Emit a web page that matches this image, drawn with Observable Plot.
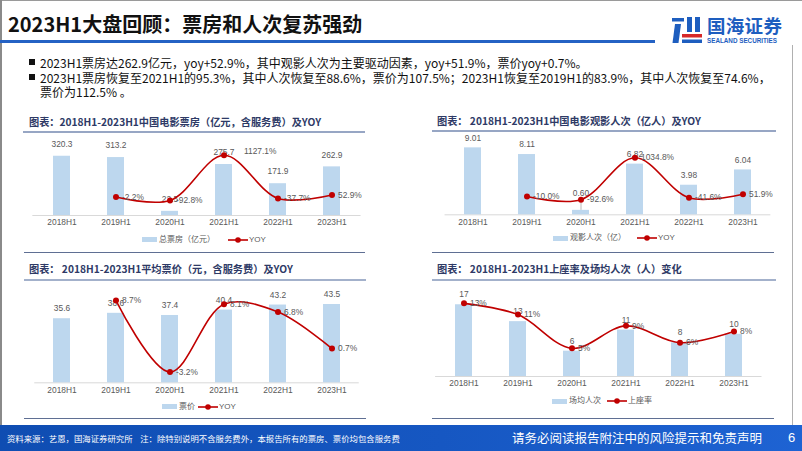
<!DOCTYPE html>
<html>
<head>
<meta charset="utf-8">
<script src="https://cdn.jsdelivr.net/npm/d3@7"></script>
<script src="https://cdn.jsdelivr.net/npm/@observablehq/plot@0.6"></script>
<style>
  body { margin: 0; background: #fff; }
  #slide { position: relative; width: 802px; height: 451px; background: #fff; overflow: hidden; font-family: "Noto Sans CJK SC", "Noto Sans", sans-serif; }
  .abs { position: absolute; }
  .ptitle { position: absolute; font-size: 10.2px; font-weight: bold; color: #2E3A66; white-space: nowrap; line-height: 1; }
  .hline { position: absolute; }
  .legend { position: absolute; display: flex; align-items: center; font-size: 8px; color: #595959; font-family: "Liberation Sans", "Noto Sans CJK SC", sans-serif; white-space: nowrap; line-height: 1; }
  .sw { display: inline-block; width: 15px; height: 5px; background: #BDD7EE; margin-right: 2px; }
  .bul { position: absolute; left: 40px; font-size: 12px; color: #111; white-space: nowrap; line-height: 13px; }
  .sq { position: absolute; left: 29px; width: 6px; height: 6px; background: #111; }
</style>
</head>
<body>
<div id="slide"></div>
<script>
// ---------- data ----------
const periods = ["2018H1", "2019H1", "2020H1", "2021H1", "2022H1", "2023H1"];
const boxOffice = [320.3, 313.2, 22.5, 275.7, 171.9, 262.9];            // 亿元
const boxOfficeYoy = [null, -2.2, -92.8, 1127.1, -37.7, 52.9];         // %
const admissions = [9.01, 8.11, 0.60, 6.82, 3.98, 6.04];                // 亿人
const admissionsYoy = [null, -10.0, -92.6, 1034.8, -41.6, 51.9];       // %
const ticketPrice = [35.6, 38.6, 37.4, 40.4, 43.2, 43.5];               // 元
const ticketPriceYoy = [null, 8.7, -3.2, 8.1, 6.8, 0.7];                // %
const perShow = [17, 13, 6, 11, 8, 10];                                 // 场均人次
const occupancy = [13, 11, 5, 9, 6, 8];                                 // 上座率 %

const slide = document.getElementById("slide");
function add(html) { slide.insertAdjacentHTML("beforeend", html); }

// ---------- frame ----------
add(`<div class="abs" style="left:0;top:0;width:802px;height:1px;background:#9a9a9a"></div>`);
add(`<div class="abs" style="left:0;top:0;width:2px;height:425px;background:#8a8a8a"></div>`);
add(`<div class="abs" style="left:792px;top:45px;width:1px;height:380px;background:#b0b0b0"></div>`);

// ---------- header ----------
add(`<div class="abs" style="left:8px;top:12px;font-size:20px;font-weight:bold;color:#111;line-height:24px;white-space:nowrap">2023H1大盘回顾：票房和人次复苏强劲</div>`);
add(`<div class="abs" style="left:0;top:40px;width:655px;height:3px;background:#2462C4"></div>`);
// logo
add(`<svg class="abs" style="left:671px;top:16px" width="32" height="28" viewBox="0 0 32 28">
  <path d="M1 2 L13 2 L13 5.5 L1 5.5 Z" fill="#1E5EBF"/>
  <path d="M4 8 L10 8 L7.5 27 L1.5 27 Z" fill="#1E5EBF"/>
  <path d="M16 1 L21 1 L21 16 L16 16 Z" fill="#1E5EBF"/>
  <path d="M24 1 L29 1 L29 16 L24 16 Z" fill="#1E5EBF"/>
  <rect x="11" y="18" width="20" height="3.5" fill="#D62828"/>
  <rect x="11" y="23.5" width="20" height="3.5" fill="#1E5EBF"/>
</svg>`);
add(`<div class="abs" style="left:707px;top:16px;font-size:18.5px;font-weight:bold;color:#1E5EBF;line-height:19px;height:19px;white-space:nowrap;letter-spacing:0.3px">国海证券</div>`);
add(`<div class="abs" style="left:707px;top:37px;font-size:6.3px;font-weight:bold;color:#1E5EBF;line-height:7px;white-space:nowrap;font-family:'Liberation Sans',sans-serif">SEALAND SECURITIES</div>`);

// ---------- bullets ----------
add(`<div class="sq" style="top:59px"></div>`);
add(`<div class="bul" style="top:55.5px">2023H1票房达262.9亿元，yoy+52.9%，其中观影人次为主要驱动因素，yoy+51.9%，票价yoy+0.7%。</div>`);
add(`<div class="sq" style="top:74px"></div>`);
add(`<div class="bul" style="top:70.5px">2023H1票房恢复至2021H1的95.3%，其中人次恢复至88.6%，票价为107.5%；2023H1恢复至2019H1的83.9%，其中人次恢复至74.6%，</div>`);
add(`<div class="bul" style="top:85px">票价为112.5% 。</div>`);

// ---------- panel titles and rules ----------
function rule(x1, x2, y, color, h) {
  add(`<div class="hline" style="left:${x1}px;top:${y - h / 2}px;width:${x2 - x1}px;height:${h}px;background:${color}"></div>`);
}
add(`<div class="ptitle" style="left:29px;top:116.5px">图表：2018H1-2023H1中国电影票房（亿元，含服务费）及YOY</div>`);
add(`<div class="ptitle" style="left:437px;top:115.5px">图表： 2018H1-2023H1中国电影观影人次（亿人）及YOY</div>`);
add(`<div class="ptitle" style="left:29px;top:263.5px">图表： 2018H1-2023H1平均票价（元，含服务费）及YOY</div>`);
add(`<div class="ptitle" style="left:437px;top:263.5px">图表： 2018H1-2023H1上座率及场均人次（人）变化</div>`);

// ---------- charts ----------
const barColor = "#BDD7EE";
const lineColor = "#C00000";
const labelColor = "#595959";
const font = "'Liberation Sans', Arial, 'Noto Sans CJK SC', sans-serif";

function chart(cfg) {
  const data = periods.map((p, i) => ({p, v: cfg.bars[i], r: cfg.line[i]}));
  const lineData = data.filter(d => d.r != null);
  // secondary axis mapped onto the primary one
  const toPrimary = d3.scaleLinear().domain(cfg.y2).range([0, cfg.yMax]);
  const yr = d => toPrimary(d.r);
  const big = cfg.bigLabel ? lineData.filter(d => d.r === d3.max(lineData, e => e.r)) : [];
  const normal = lineData.filter(d => !big.includes(d));
  // a very small bar gets its label lifted, with a thin leader
  const small = cfg.liftSmall ? data.filter(d => d.v === d3.min(data, e => e.v)) : [];
  const regular = data.filter(d => !small.includes(d));
  const svg = Plot.plot({
    width: cfg.W, height: cfg.H,
    marginLeft: cfg.ML, marginRight: cfg.MR, marginTop: cfg.MT, marginBottom: cfg.MB,
    x: {domain: periods, paddingInner: 0.69, paddingOuter: 0.345},
    y: {domain: [0, cfg.yMax], axis: null},
    style: {fontFamily: font, fontSize: "8.4px", color: labelColor, background: "transparent", overflow: "visible"},
    marks: [
      Plot.ruleY([0], {stroke: "#D9D9D9", strokeWidth: 1}),
      Plot.barY(data, {x: "p", y: "v", fill: barColor}),
      Plot.text(regular, {x: "p", y: "v", text: d => cfg.barFmt(d.v), dy: cfg.barDy, fill: labelColor}),
      Plot.ruleX(small, {x: "p", y1: "v", y2: d => d.v + cfg.yMax * 0.1, stroke: "#A6A6A6", strokeWidth: 0.8}),
      Plot.text(small, {x: "p", y: "v", text: d => cfg.barFmt(d.v), dy: -17, fill: labelColor}),
      Plot.axisX({tickSize: 0, tickPadding: 4, fill: labelColor, label: null}),
      Plot.line(lineData, {x: "p", y: yr, stroke: lineColor, strokeWidth: 1.6, curve: "catmull-rom"}),
      Plot.dot(lineData, {x: "p", y: yr, r: 3, fill: lineColor}),
      Plot.text(normal, {x: "p", y: yr, text: d => cfg.lineFmt(d.r), textAnchor: "start", dx: 6, fill: labelColor}),
      Plot.text(big, {x: "p", y: yr, text: d => cfg.lineFmt(d.r), textAnchor: "start", dx: 20, dy: -4, fill: labelColor})
    ]
  });
  const wrap = document.createElement("div");
  wrap.style.cssText = `position:absolute;left:${cfg.left}px;top:${cfg.top}px;width:${cfg.W}px;height:${cfg.H}px`;
  wrap.appendChild(svg);
  slide.appendChild(wrap);
}

const pct1 = v => d3.format(".1f")(v).replace("−", "-") + "%";
const pct0 = v => d3.format(".0f")(v).replace("−", "-") + "%";

chart({left: 0, top: 130, W: 400, H: 105, ML: 32.35, MR: 39.45, MT: 11, MB: 20,
  bars: boxOffice, line: boxOfficeYoy, yMax: 400, y2: [-500, 1500],
  barFmt: d3.format(".1f"), lineFmt: pct1, barDy: -12, bigLabel: true});
chart({left: 400, top: 130, W: 400, H: 104.3, ML: 44.55, MR: 29.65, MT: 10, MB: 20,
  bars: admissions, line: admissionsYoy, yMax: 10, y2: [-500, 1500],
  barFmt: d3.format(".2f"), lineFmt: pct1, barDy: -10, liftSmall: true});
chart({left: 0, top: 285, W: 400, H: 117.3, ML: 34.26, MR: 41.24, MT: 7.3, MB: 20,
  bars: ticketPrice, line: ticketPriceYoy, yMax: 50, y2: [-5, 10],
  barFmt: d3.format(".1f"), lineFmt: pct1, barDy: -10});
chart({left: 400, top: 285, W: 400, H: 111, ML: 35.1, MR: 38.5, MT: 6.6, MB: 20,
  bars: perShow, line: occupancy, yMax: 20, y2: [0, 15],
  barFmt: d3.format("d"), lineFmt: pct0, barDy: -10});

// rules drawn on top of the chart area edges
rule(23, 365, 131.7, "#97A6C4", 2);
rule(432, 776, 131, "#97A6C4", 2);
rule(24, 365, 252.5, "#5F6F93", 1.5);
rule(432, 774, 252.5, "#5F6F93", 1.5);
rule(24, 366, 279.5, "#A3B1CB", 2);
rule(432, 776, 280, "#A3B1CB", 2);
rule(24, 366, 418.3, "#5F6F93", 1.5);
rule(432, 774, 418.3, "#5F6F93", 1.5);

// ---------- legends ----------
const lineSym = `<svg width="20" height="8" style="margin:0 1px 0 0"><line x1="0" y1="4" x2="20" y2="4" stroke="${lineColor}" stroke-width="1.6"/><circle cx="10" cy="4" r="2.8" fill="${lineColor}"/></svg>`;
function legend(left, cy, barName, lineName, gap) {
  add(`<div class="legend" style="left:${left}px;top:${cy - 5}px;height:10px"><span class="sw"></span><span>${barName}</span><span style="display:inline-block;width:${gap}px"></span>${lineSym}<span>${lineName}</span></div>`);
}
legend(142, 239.5, "总票房（亿元）", "YOY", 13);
legend(553, 238, "观影人次（亿）", "YOY", 11);
legend(162, 406.5, "票价", "YOY", 3);
legend(552, 401, "场均人次", "上座率", 6);

// ---------- footer ----------
add(`<div class="abs" style="left:0;top:425px;width:802px;height:26px;background:linear-gradient(90deg,#0F4DB2 0%,#1657C2 55%,#1E63D3 100%)"></div>`);
add(`<div class="abs" style="left:7px;top:433px;font-size:8.4px;color:#fff;line-height:10px;white-space:nowrap">资料来源：艺恩，国海证券研究所&nbsp;&nbsp;&nbsp;&nbsp;注：除特别说明不含服务费外，本报告所有的票房、票价均包含服务费</div>`);
add(`<div class="abs" style="left:512px;top:430px;font-size:12.5px;color:#fff;line-height:16px;white-space:nowrap">请务必阅读报告附注中的风险提示和免责声明</div>`);
add(`<div class="abs" style="left:788px;top:430px;font-size:13px;color:#fff;line-height:16px;font-family:'Liberation Sans',sans-serif">6</div>`);
</script>
</body>
</html>
